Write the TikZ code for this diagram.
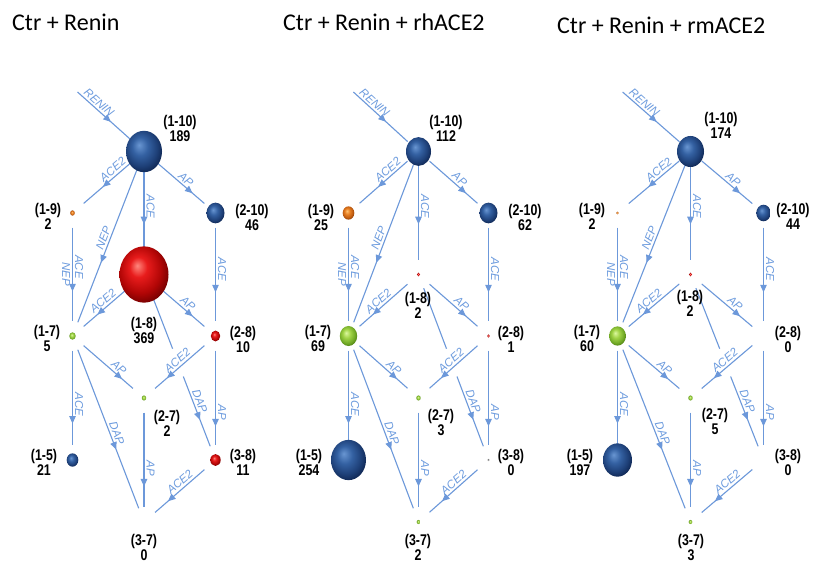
\documentclass[tikz,border=0pt]{standalone}
\usepackage{fontspec}
\setmainfont{Liberation Sans}
\newfontfamily\titlefont{Carlito}
\newfontfamily\numfont[FakeStretch=0.8]{Liberation Sans}
\newfontfamily\enzfont{Liberation Sans}
\usetikzlibrary{arrows.meta,decorations.markings,calc}

% connector and enzyme label colours
\definecolor{edgeblue}{RGB}{108,152,218}
\definecolor{enzblue}{RGB}{108,155,222}
% sphere colours: highlight, body, rim, outer rim
\definecolor{blA}{RGB}{105,150,210}
\definecolor{blB}{RGB}{52,97,162}
\definecolor{blC}{RGB}{30,64,120}
\definecolor{blD}{RGB}{16,40,85}
\definecolor{rdA}{RGB}{255,135,125}
\definecolor{rdB}{RGB}{232,28,28}
\definecolor{rdC}{RGB}{178,6,6}
\definecolor{rdD}{RGB}{120,0,0}
\definecolor{gnA}{RGB}{220,248,160}
\definecolor{gnB}{RGB}{162,212,72}
\definecolor{gnC}{RGB}{116,172,40}
\definecolor{gnD}{RGB}{80,130,20}
\definecolor{orA}{RGB}{255,195,115}
\definecolor{orB}{RGB}{232,128,36}
\definecolor{orC}{RGB}{192,92,16}
\definecolor{orD}{RGB}{140,60,5}
\definecolor{grA}{RGB}{190,190,190}
\definecolor{grB}{RGB}{150,150,150}
\definecolor{grC}{RGB}{120,120,120}
\definecolor{grD}{RGB}{100,100,100}

\pgfdeclareradialshading{sphblue}{\pgfpoint{-7bp}{8bp}}{color(0bp)=(blA); color(11bp)=(blB); color(22bp)=(blC); color(29bp)=(blD); color(50bp)=(blD)}
\pgfdeclareradialshading{sphred}{\pgfpoint{-7bp}{8bp}}{color(0bp)=(rdA); color(9bp)=(rdB); color(21bp)=(rdC); color(29bp)=(rdD); color(50bp)=(rdD)}
\pgfdeclareradialshading{sphgreen}{\pgfpoint{-7bp}{8bp}}{color(0bp)=(gnA); color(11bp)=(gnB); color(22bp)=(gnC); color(29bp)=(gnD); color(50bp)=(gnD)}
\pgfdeclareradialshading{sphorange}{\pgfpoint{-7bp}{8bp}}{color(0bp)=(orA); color(11bp)=(orB); color(22bp)=(orC); color(29bp)=(orD); color(50bp)=(orD)}
\pgfdeclareradialshading{sphgray}{\pgfpoint{-7bp}{8bp}}{color(0bp)=(grA); color(11bp)=(grB); color(22bp)=(grC); color(29bp)=(grD); color(50bp)=(grD)}

\tikzset{
  state/.style={circle, minimum size=29pt, inner sep=0pt, draw=none},
  flow/.style={color=edgeblue, line width=1.1pt, postaction={decorate},
    decoration={markings, mark=at position #1 with {\arrow{Triangle[length=7.5pt,width=6.5pt]}}}},
  plainflow/.style={color=edgeblue, line width=1.1pt},
  enz/.style={font=\enzfont\itshape\fontsize{11.5}{12}\selectfont, text=enzblue, sloped, inner sep=2pt},
  enzv/.style={enz, allow upside down},
  numlbl/.style={font=\numfont\bfseries\fontsize{15.5}{15}\selectfont, align=center, inner sep=0pt, text=black},
  heading/.style={font=\titlefont\fontsize{24}{28}\selectfont, anchor=base west, inner sep=0pt},
}

% metabolite grid with all enzyme steps; #1 prefix, #2 middle column x, #3 column spacing
\newcommand\pathwaygrid[3]{%
  \pgfmathsetmacro\xm{#2}%
  \pgfmathsetmacro\xl{#2-#3}%
  \pgfmathsetmacro\xr{#2+#3}%
  \pgfmathsetmacro\xs{#2-0.93*#3}%
  \coordinate (#1ren) at (\xs,92);
  \node[state] (#1n110) at (\xm,151.5) {};
  \node[state] (#1n19)  at (\xl,213) {};
  \node[state] (#1n210) at (\xr,213) {};
  \node[state] (#1n18)  at (\xm,274.5) {};
  \node[state] (#1n17)  at (\xl,336) {};
  \node[state] (#1n28)  at (\xr,336) {};
  \node[state] (#1n27)  at (\xm,398) {};
  \node[state] (#1n15)  at (\xl,460) {};
  \node[state] (#1n38)  at (\xr,460) {};
  \node[state] (#1n37)  at (\xm,522) {};
  \coordinate (#1gapA) at ($(#1n18)!0.40!(#1n38)$);
  \coordinate (#1gapB) at ($(#1n18)!0.55!(#1n38)$);
  \draw[flow=0.6] (#1ren) -- (#1n110) node[enz,above,pos=0.31] (#1e1) {RENIN};
  \draw[flow=0.61] (#1n110) -- (#1n19) node[enz,above,pos=0.32] (#1e2) {ACE2};
  \draw[flow=0.76] (#1n110) -- (#1n210) node[enz,above,pos=0.54] (#1e3) {AP};
  \draw[flow=0.62] (#1n110) -- (#1n18) node[enzv,above,pos=0.43] (#1e4) {ACE};
  \draw[flow=0.62] (#1n110) -- (#1n17) node[enz,above,pos=0.48] (#1e5) {NEP};
  \draw[flow=0.68] (#1n19) -- (#1n17) node[enzv,above,pos=0.42] (#1e6) {ACE}
                                      node[enzv,below,pos=0.50] (#1e7) {NEP};
  \draw[flow=0.69] (#1n210) -- (#1n28) node[enzv,above,pos=0.45] (#1e8) {ACE};
  \draw[flow=0.72] (#1n18) -- (#1n17) node[enz,above,pos=0.52] (#1e9) {ACE2};
  \draw[flow=0.76] (#1n18) -- (#1n28) node[enz,above,pos=0.58] (#1e10) {AP};
  \draw[plainflow] (#1n18) -- (#1gapA);
  \draw[flow=0.62] (#1gapB) -- (#1n38) node[enz,above,pos=0.39] (#1e11) {DAP};
  \draw[flow=0.77] (#1n17) -- (#1n15) node[enzv,above,pos=0.57] (#1e12) {ACE};
  \draw[flow=0.78] (#1n17) -- (#1n27) node[enz,above,pos=0.63] (#1e13) {AP};
  \draw[flow=0.63] (#1n17) -- (#1n37) node[enz,above,pos=0.54] (#1e14) {DAP};
  \draw[flow=0.76] (#1n28) -- (#1n27) node[enz,above,pos=0.46] (#1e15) {ACE2};
  \draw[flow=0.8] (#1n28) -- (#1n38) node[enzv,above,pos=0.65] (#1e16) {AP};
  \draw[flow=0.78] (#1n27) -- (#1n37) node[enzv,above,pos=0.59] (#1e17) {AP};
  \draw[flow=0.74] (#1n38) -- (#1n37) node[enz,above,pos=0.41] (#1e18) {ACE2};
}

% sphere at a metabolite: #1 shading, #2 node, #3 horizontal radius
\newcommand\sph[3]{%
  \pgfmathsetmacro\ryy{1.15*#3}%
  \shade[shading=#1] (#2) ellipse [x radius=#3pt, y radius=\ryy pt];
}

% amount label: #1 name, #2 x, #3 y, #4 peptide, #5 amount
\newcommand\amount[5]{\node[numlbl] (#1) at (#2,#3) {(#4)\\#5};}

\begin{document}
\begin{tikzpicture}[x=1pt,y=-1pt]
\fill[white] (0,0) rectangle (814,562);
\useasboundingbox (0,0) rectangle (814,562);

\node[heading] (t1) at (12,30) {Ctr + Renin};
\node[heading] (t2) at (283,30) {Ctr + Renin + rhACE2};
\node[heading] (t3) at (557,34) {Ctr + Renin + rmACE2};

\pathwaygrid{a}{144}{71.5}
\pathwaygrid{b}{418.5}{70}
\pathwaygrid{c}{690.5}{73}

% Ctr + Renin
\sph{sphblue}{an110}{18}
\sph{sphorange}{an19}{2.3}
\sph{sphblue}{an210}{9}
\sph{sphred}{an18}{24.5}
\sph{sphgreen}{an17}{3.2}
\sph{sphred}{an28}{4.7}
\sph{sphgreen}{an27}{2.2}
\sph{sphblue}{an15}{5.8}
\sph{sphred}{an38}{5.2}
\amount{aL110}{180}{128}{1-10}{189}
\amount{aL19}{48}{216}{1-9}{2}
\amount{aL210}{252}{217}{2-10}{46}
\amount{aL18}{144}{330}{1-8}{369}
\amount{aL17}{47}{338}{1-7}{5}
\amount{aL28}{243}{339}{2-8}{10}
\amount{aL27}{167}{423}{2-7}{2}
\amount{aL15}{44}{462}{1-5}{21}
\amount{aL38}{243}{462}{3-8}{11}
\amount{aL37}{144}{547}{3-7}{0}

% Ctr + Renin + rhACE2
\sph{sphblue}{bn110}{12.5}
\sph{sphorange}{bn19}{5.8}
\sph{sphblue}{bn210}{9}
\sph{sphred}{bn18}{1.6}
\sph{sphgreen}{bn17}{8.7}
\sph{sphred}{bn28}{1.4}
\sph{sphgreen}{bn27}{2.2}
\sph{sphblue}{bn15}{17.5}
\sph{sphgray}{bn38}{1}
\sph{sphgreen}{bn37}{1.8}
\amount{bL110}{446}{128}{1-10}{112}
\amount{bL19}{321}{217}{1-9}{25}
\amount{bL210}{525}{217}{2-10}{62}
\amount{bL18}{418}{305}{1-8}{2}
\amount{bL17}{318}{338}{1-7}{69}
\amount{bL28}{511}{339}{2-8}{1}
\amount{bL27}{441}{422}{2-7}{3}
\amount{bL15}{309}{462}{1-5}{254}
\amount{bL38}{511}{462}{3-8}{0}
\amount{bL37}{418}{547}{3-7}{2}

% Ctr + Renin + rmACE2
\sph{sphblue}{cn110}{13.5}
\sph{sphorange}{cn19}{1.3}
\sph{sphblue}{cn210}{7.2}
\sph{sphred}{cn18}{1.6}
\sph{sphgreen}{cn17}{8.4}
\sph{sphgreen}{cn27}{2.2}
\sph{sphblue}{cn15}{14.5}
\sph{sphgreen}{cn37}{1.8}
\amount{cL110}{721}{125}{1-10}{174}
\amount{cL19}{592}{216}{1-9}{2}
\amount{cL210}{793}{216}{2-10}{44}
\amount{cL18}{690}{303}{1-8}{2}
\amount{cL17}{587}{338}{1-7}{60}
\amount{cL28}{788}{339}{2-8}{0}
\amount{cL27}{715}{421}{2-7}{5}
\amount{cL15}{580}{462}{1-5}{197}
\amount{cL38}{788}{462}{3-8}{0}
\amount{cL37}{691}{547}{3-7}{3}
\end{tikzpicture}
\end{document}
